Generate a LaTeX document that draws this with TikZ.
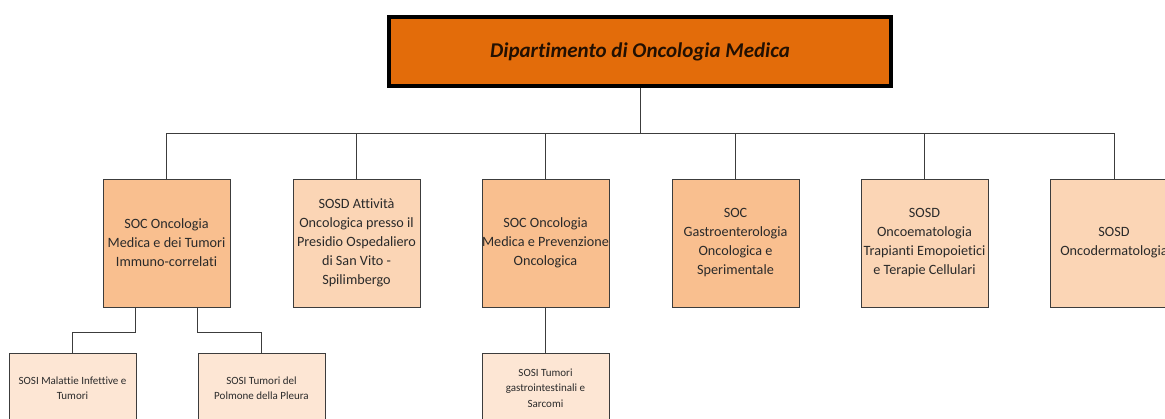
\documentclass[tikz,border=0pt]{standalone}
\usepackage{fontspec}
\setmainfont{Carlito}[Ligatures=NoCommon]
\usepackage{xcolor}
\definecolor{dipfill}{HTML}{E36C0A}
\definecolor{socfill}{HTML}{F9BF8F}
\definecolor{sosdfill}{HTML}{FBD5B5}
\definecolor{sosifill}{HTML}{FDE6D4}
\definecolor{linegray}{HTML}{3C3C3C}
\definecolor{textgray}{HTML}{2A2A2A}
\tikzset{dip/.style={draw=black, line width=4pt, fill=dipfill, minimum width=502pt, minimum height=69pt, text=black!85!dipfill, font=\fontsize{21}{25}\selectfont\bfseries\itshape}}
\tikzset{soc/.style={draw=linegray, line width=1pt, fill=socfill, minimum width=127pt, minimum height=128pt, inner sep=0pt, align=center, text=textgray, font=\fontsize{14.2}{19}\selectfont}}
\tikzset{sosd/.style={soc, fill=sosdfill}}
\tikzset{sosi/.style={draw=linegray, line width=1pt, fill=sosifill, minimum width=127pt, minimum height=70pt, inner sep=0pt, align=center, text=textgray, font=\fontsize{11}{15.5}\selectfont}}
\tikzset{conn/.style={draw=linegray, line width=1pt}}

\begin{document}
\begin{tikzpicture}[x=1pt, y=-1pt]
                        \useasboundingbox (0, 0) rectangle (1165, 418);
                        \clip (0, 0) rectangle (1165, 418);
                        \fill[white] (0, 0) rectangle (1165, 418);

                        \node[dip] (dip) at (640, 51.5) {\raisebox{-5.5pt}[0pt][0pt]{Dipartimento di Oncologia Medica}};
                        \coordinate (bus) at (640, 133);

                        \node[soc] (soc1) at (166.5, 243) {SOC Oncologia\\Medica e dei Tumori\\Immuno-correlati};
                        \node[sosd] (sosd1) at (356.5, 243) {SOSD Attività\\Oncologica presso il\\Presidio Ospedaliero\\di San Vito -\\Spilimbergo};
                        \node[soc] (soc2) at (545.5, 243) {SOC Oncologia\\Medica e Prevenzione\\Oncologica};
                        \node[soc] (soc3) at (735.5, 243) {SOC\\Gastroenterologia\\Oncologica e\\Sperimentale};
                        \node[sosd] (sosd2) at (924.5, 243) {SOSD\\Oncoematologia\\Trapianti Emopoietici\\e Terapie Cellulari};
                        \node[sosd] (sosd3) at (1114, 243) {SOSD\\Oncodermatologia};

                        \node[sosi] (sosi1) at (72.5, 388) {SOSI Malattie Infettive e\\Tumori};
                        \node[sosi] (sosi2) at (261.5, 388) {SOSI Tumori del\\Polmone della Pleura};
                        \node[sosi] (sosi3) at (545.5, 388) {SOSI Tumori\\gastrointestinali e\\Sarcomi};

                        \draw[conn] (dip.south) -- (bus);
                        \draw[conn]
                        (soc1.north) |- (bus)
                        (sosd1.north) |- (bus)
                        (soc2.north) |- (bus)
                        (soc3.north) |- (bus)
                        (sosd2.north) |- (bus)
                        (sosd3.north) |- (bus);

                        \draw[conn] ([xshift=33pt]soc1.south west) -- ++(0, 25) -| (sosi1.north);
                        \draw[conn] ([xshift=95pt]soc1.south west) -- ++(0, 25) -| (sosi2.north);
                        \draw[conn] (soc2.south) -- (sosi3.north);
                    \end{tikzpicture}
\end{document}
